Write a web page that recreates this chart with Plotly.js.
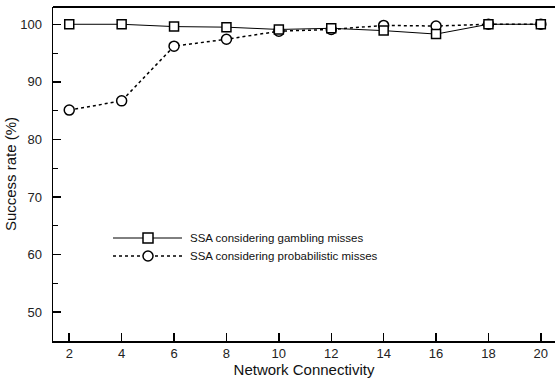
<!DOCTYPE html>
<html>
<head>
<meta charset="utf-8">
<script src="https://cdn.plot.ly/plotly-3.0.1.min.js"></script>
<style>html,body{margin:0;padding:0;background:#fff;}#chart{width:555px;height:378px;}</style>
</head>
<body>
<div id="chart"></div>
<script>
const connectivity = [2, 4, 6, 8, 10, 12, 14, 16, 18, 20];
const gambling = [100, 100, 99.6, 99.5, 99.1, 99.3, 98.9, 98.3, 100, 100];
const probabilistic = [85.1, 86.7, 96.2, 97.4, 98.8, 99.1, 99.8, 99.7, 100, 100];
const seriesNames = ["SSA considering gambling misses", "SSA considering probabilistic misses"];
const yTicks = [50, 60, 70, 80, 90, 100];
const xTicks = [2, 4, 6, 8, 10, 12, 14, 16, 18, 20];

const FONT = "Liberation Sans, Arial, Helvetica, sans-serif";

const traces = [
  {
    x: connectivity, y: probabilistic, type: "scatter", mode: "lines+markers",
    name: seriesNames[1],
    line: {color: "#000", width: 1.5, dash: "dot"},
    marker: {symbol: "circle", size: 10, color: "#fff", line: {color: "#000", width: 1.5}},
    cliponaxis: false
  },
  {
    x: connectivity, y: gambling, type: "scatter", mode: "lines+markers",
    name: seriesNames[0],
    line: {color: "#000", width: 1},
    marker: {symbol: "square", size: 9, color: "#fff", line: {color: "#000", width: 1.5}},
    cliponaxis: false
  }
];

// legend geometry (paper coords)
const L = 53, R = 555, T = 7, B = 341;
const px = v => (v - L) / (R - L);
const py = v => (B - v) / (B - T);
const rows = [
  {y: 238, dash: "solid", width: 1, sym: "rect", text: seriesNames[0]},
  {y: 256, dash: "dot", width: 1.5, sym: "circle", text: seriesNames[1]}
];
const shapes = [
  {type: "line", xref: "paper", yref: "paper", x0: 0, x1: 1, y0: 1, y1: 1, line: {color: "#000", width: 2}}
];
const annotations = [];
rows.forEach(r => {
  shapes.push({type: "line", xref: "paper", yref: "paper", x0: px(113), x1: px(182), y0: py(r.y), y1: py(r.y),
    line: {color: "#000", width: r.width, dash: r.dash}});
  shapes.push({type: r.sym, xref: "paper", yref: "paper", xsizemode: "pixel", ysizemode: "pixel",
    xanchor: px(148), yanchor: py(r.y), x0: -5, x1: 5, y0: -5, y1: 5,
    fillcolor: "#fff", line: {color: "#000", width: 1.5}});
  annotations.push({xref: "paper", yref: "paper", x: px(188), y: py(r.y), xanchor: "left", yanchor: "middle",
    text: r.text, showarrow: false, font: {family: FONT, size: 11.5, color: "#111"}});
});

const layout = {
  width: 555, height: 378,
  margin: {l: 53, r: 0, t: 7, b: 37},
  paper_bgcolor: "#fff", plot_bgcolor: "#fff",
  showlegend: false,
  font: {family: FONT, color: "#111"},
  xaxis: {
    range: [1.38, 20.54], tickvals: xTicks, ticks: "inside", ticklen: 8, tickwidth: 1.5, tickcolor: "#000",
    showline: true, linecolor: "#000", linewidth: 1.5, showgrid: false, zeroline: false,
    tickfont: {size: 13, family: FONT, color: "#222"},
    title: {text: "Network Connectivity", font: {size: 15, family: FONT, color: "#111"}, standoff: 0}
  },
  yaxis: {
    range: [45, 103], tickvals: yTicks, ticks: "inside", ticklen: 8, tickwidth: 1.5, tickcolor: "#000",
    minor: {dtick: 5, ticks: "inside", ticklen: 5, tickwidth: 1, tickcolor: "#000", showgrid: false},
    showline: true, linecolor: "#000", linewidth: 1.5, showgrid: false, zeroline: false,
    ticklabelstandoff: 7,
    tickfont: {size: 13, family: FONT, color: "#222"},
    title: {text: "Success rate (%)", font: {size: 15, family: FONT, color: "#111"}, standoff: 0}
  },
  shapes: shapes,
  annotations: annotations
};

Plotly.newPlot("chart", traces, layout, {displayModeBar: false, staticPlot: true});
</script>
</body>
</html>
